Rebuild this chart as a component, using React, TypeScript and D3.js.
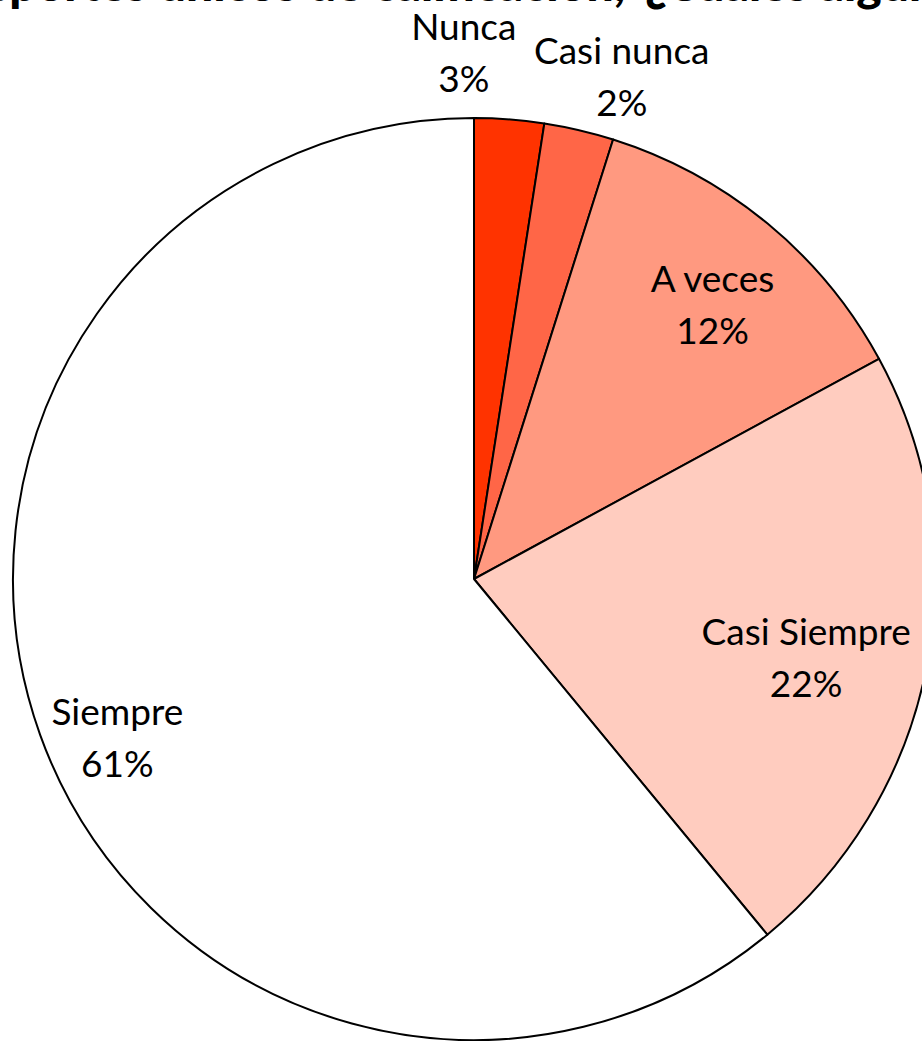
import React from "react";
import * as d3 from "d3";

const categories = ["Nunca", "Casi nunca", "A veces", "Casi Siempre", "Siempre"];
const counts = [1, 1, 5, 9, 25];
const percentLabels = ["3%", "2%", "12%", "22%", "61%"];
const colors = ["#FF3300", "#FF6647", "#FF9980", "#FFCCBF", "#FFFFFF"];

// label placement: radius (fraction of R) and angular nudge (degrees)
const labelRadius = [1.143, 1.137, 0.79, 0.74, 0.846];
const labelNudge = [-5.5, 3.2, 1.4, 2.2, -4.1];

const W = 922;
const H = 1041;
const cx = 474;
const cy = 579;
const R = 461;

export default function App() {
  const pie = d3
    .pie<number>()
    .value((d) => d)
    .sort(null)
    .startAngle(0)
    .endAngle(2 * Math.PI);
  const arcs = pie(counts);
  const arc = d3.arc<d3.PieArcDatum<number>>().innerRadius(0).outerRadius(R);
  const font = "Lato, 'Open Sans', sans-serif";

  return (
    <svg
      width={W}
      height={H}
      style={{ position: "absolute", left: 0, top: 0, background: "#fff" }}
    >
      <text
        x={625}
        y={1}
        textAnchor="end"
        fontFamily={font}
        fontWeight={900}
        fontSize={48}
        fill="#000"
      >
        De los reportes únicos de calificación,
      </text>
      <text
        x={645}
        y={1}
        textAnchor="start"
        fontFamily={font}
        fontWeight={900}
        fontSize={48}
        fill="#000"
      >
        ¿Cuáles algunas veces
      </text>
      <g transform={`translate(${cx},${cy})`}>
        {arcs.map((a, i) => (
          <path
            key={categories[i]}
            d={arc(a) || ""}
            fill={colors[i]}
            stroke="#000"
            strokeWidth={2}
            strokeLinejoin="round"
          />
        ))}
        {arcs.map((a, i) => {
          const mid = (a.startAngle + a.endAngle) / 2 + (labelNudge[i] * Math.PI) / 180;
          const r = R * labelRadius[i];
          const x = r * Math.sin(mid);
          const y = -r * Math.cos(mid);
          return (
            <text
              key={"l" + i}
              x={x}
              y={y}
              textAnchor="middle"
              fontFamily={font}
              fontSize={37}
              fill="#000"
            >
              <tspan x={x} dy={-12}>
                {categories[i]}
              </tspan>
              <tspan x={x} dy={52}>
                {percentLabels[i]}
              </tspan>
            </text>
          );
        })}
      </g>
    </svg>
  );
}
